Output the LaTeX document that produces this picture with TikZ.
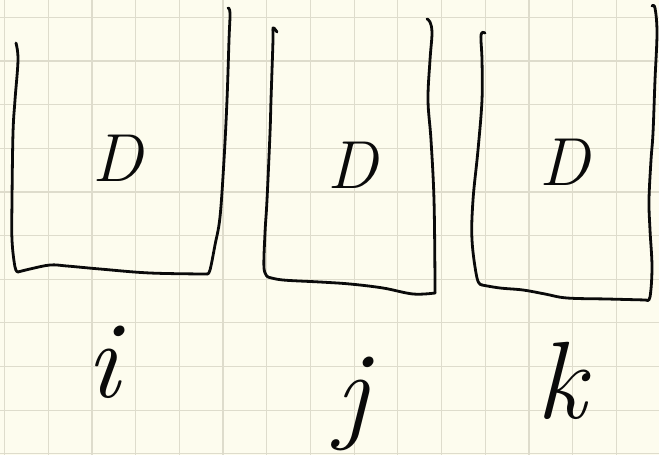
\documentclass[tikz,border=0pt]{standalone}
\usepackage{fontspec}
\definecolor{paper}{HTML}{FDFCEE}
\definecolor{gridc}{HTML}{DEDCCC}
\definecolor{ink}{HTML}{0A0A0A}
\tikzset{
  pen/.style={draw=ink, line width=2.8pt, line cap=round, line join=round},
  gridline/.style={draw=gridc, line width=1.2pt},
  letter/.style={text=ink, inner sep=0pt, font=\fontsize{68}{68}\selectfont\itshape},
  biglet/.style={text=ink, inner sep=0pt, anchor=base, font=\fontsize{110}{110}\selectfont\itshape}
}
\begin{document}
\begin{tikzpicture}[x=1pt,y=-1pt]
\useasboundingbox (0,0) rectangle (659,455);
\fill[paper] (0,0) rectangle (659,455);
\foreach \k in {0,...,14} { \draw[gridline] (4.5+43.7*\k,0) -- (4.5+43.7*\k,455); }
\foreach \k in {0,...,10} { \draw[gridline] (0,17.3+43.65*\k) -- (659,17.3+43.65*\k); }

% box i
\draw[pen] plot[smooth,tension=0.6] coordinates {(16,43) (18,60) (15,100) (13,133) (12,200) (12,240) (15,267) (18,272)};
\draw[pen] plot[smooth,tension=0.6] coordinates {(18,272) (30,269) (50,265) (67,266) (100,269) (150,273) (207,274)};
\draw[pen] plot[smooth,tension=0.6] coordinates {(207,274) (210,270) (215,245) (220,217) (224,160) (227,100) (229,40) (230,13) (228,8)};

% box j
\draw[pen] plot[smooth,tension=0.6] coordinates {(277,32) (273,28) (273,40) (271,100) (270,133) (267,200) (265,233) (264,268) (268,277)};
\draw[pen] plot[smooth,tension=0.6] coordinates {(268,277) (283,280) (320,282) (350,284) (383,288) (413,294) (435,293)};
\draw[pen] plot[smooth,tension=0.6] coordinates {(435,293) (435,280) (434,200) (431,140) (428,100) (430,60) (432,33) (430,22) (427,19)};

% box k
\draw[pen] plot[smooth,tension=0.6] coordinates {(485,33) (481,35) (482,60) (482,100) (478,150) (473,200) (472,240) (477,278) (482,285)};
\draw[pen] plot[smooth,tension=0.6] coordinates {(482,285) (500,288) (523,290) (545,294) (567,298) (607,299) (646,300)};
\draw[pen] plot[smooth,tension=0.6] coordinates {(646,300) (650,297) (652,267) (650,230) (649,200) (651,160) (653,133) (655,80) (657,33) (655,8) (652,6)};

% contents and labels
\node[letter] (d1) at (118,158) {D};
\node[letter] (d2) at (353,165) {D};
\node[letter] (d3) at (565,162) {D};
\node[biglet] (li) at (103,397) {i};
\node[biglet] (lj) at (352,428) {j};
\node[biglet] (lk) at (561,418) {k};
\end{tikzpicture}
\end{document}
